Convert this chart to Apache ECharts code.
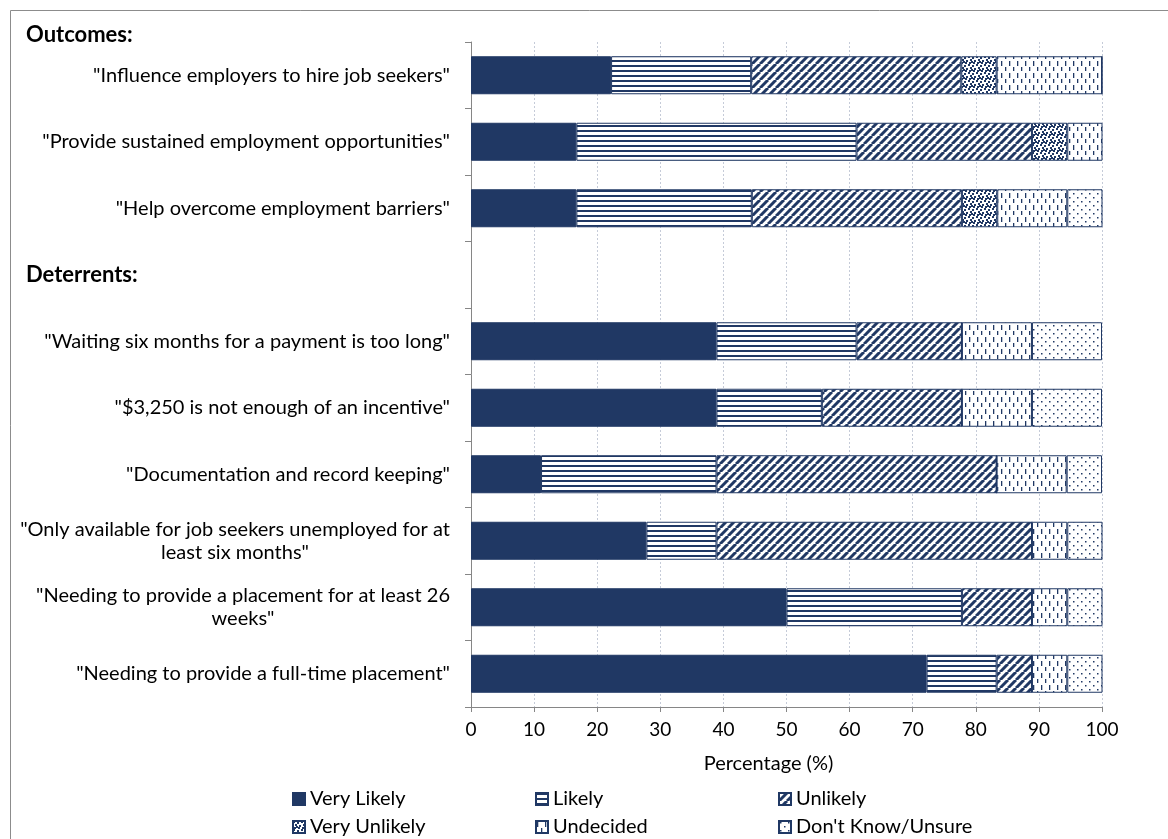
<!DOCTYPE html>
<html><head><meta charset="utf-8">
<script src="https://cdn.jsdelivr.net/npm/echarts@6/dist/echarts.min.js"></script>
<style>html,body{margin:0;padding:0;background:#fff}#c{width:1168px;height:839px}</style>
</head><body><div id="c"></div>
<script>
const categories = [
  '"Influence employers to hire job seekers"',
  '"Provide sustained employment opportunities"',
  '"Help overcome employment barriers"',
  'Deterrents:',
  '"Waiting six months for a payment is too long"',
  '"$3,250 is not enough of an incentive"',
  '"Documentation and record keeping"',
  '"Only available for job seekers unemployed for at\nleast six months"',
  '"Needing to provide a placement for at least 26\nweeks"',
  '"Needing to provide a full-time placement"'
];
const seriesNames = ['Very Likely','Likely','Unlikely','Very Unlikely','Undecided',"Don't Know/Unsure"];
const veryLikely   = [22.2, 16.7, 16.7, null, 38.9, 38.9, 11.1, 27.8, 50.0, 72.2];
const likely       = [22.2, 44.4, 27.8, null, 22.2, 16.7, 27.8, 11.1, 27.8, 11.1];
const unlikely     = [33.3, 27.8, 33.3, null, 16.7, 22.2, 44.4, 50.0, 11.1,  5.6];
const veryUnlikely = [ 5.6,  5.6,  5.6, null,  0,    0,    0,    0,    0,    0  ];
const undecided    = [16.7,  5.6, 11.1, null, 11.1, 11.1, 11.1,  5.6,  5.6,  5.6];
const dontKnow     = [ 0,    0,    5.6, null, 11.1, 11.1,  5.6,  5.6,  5.6,  5.6];
const xTicks = [0,10,20,30,40,50,60,70,80,90,100];

const NAVY = '#203864';
const FONT = 'Lato';
const FS = 20;
function pattern(w, h, draw) {
  const c = document.createElement('canvas');
  c.width = w; c.height = h;
  const g = c.getContext('2d');
  g.fillStyle = '#fff'; g.fillRect(0, 0, w, h);
  g.fillStyle = NAVY; g.strokeStyle = NAVY;
  draw(g);
  return { image: c, repeat: 'repeat' };
}
const fills = [
  NAVY,
  pattern(4, 5, g => { g.fillRect(0, 0, 4, 2); }),
  pattern(8, 8, g => {
    g.lineWidth = 3;
    [-8, 0, 8].forEach(o => { g.beginPath(); g.moveTo(o, 8); g.lineTo(o + 8, 0); g.stroke(); });
  }),
  pattern(8, 8, g => {
    [[0,0],[4,1],[2,3],[6,4],[1,6],[5,6],[3,5]].forEach(p => g.fillRect(p[0], p[1], 2, 2));
  }),
  pattern(8, 12, g => { g.fillRect(1, 1, 1.3, 5); g.fillRect(5, 7, 1.3, 4); }),
  pattern(8, 8, g => { g.fillRect(1, 1, 1.5, 1.5); g.fillRect(5, 5, 1.5, 1.5); })
];
const allData = [veryLikely, likely, unlikely, veryUnlikely, undecided, dontKnow];

const ctx = document.createElement('canvas').getContext('2d');
ctx.font = FS + 'px ' + FONT;
const rich = { h: { fontFamily: FONT, fontSize: 22, fontWeight: 'bold', color: '#000', width: 424, align: 'left' } };
const labelMap = {};
categories.forEach((cat, i) => {
  if (cat.indexOf('\n') >= 0) {
    const lines = cat.split('\n');
    const w = Math.max(...lines.map(l => ctx.measureText(l).width));
    rich['m' + i] = { fontFamily: FONT, fontSize: FS, color: '#000', width: Math.ceil(w), align: 'center', lineHeight: 23 };
    labelMap[cat] = lines.map(l => '{m' + i + '|' + l + '}').join('\n');
  }
});

const chart = echarts.init(document.getElementById('c'), null, { renderer: 'canvas' });
const legendPos = [[287,784],[530,784],[773,784],[287,812],[530,812],[773,812]];
const option = {
  animation: false,
  backgroundColor: '#fff',
  title: { text: 'Outcomes:', left: 21, top: 19, textStyle: { fontFamily: FONT, fontSize: 22, fontWeight: 'bold', color: '#000' } },
  graphic: [{ type: 'rect', shape: { x: 10.5, y: 10.5, width: 1200, height: 900 }, style: { fill: 'none', stroke: '#8c8c8c', lineWidth: 1 }, silent: true }],
  grid: { left: 471, right: 66, top: 42, bottom: 132 },
  legend: seriesNames.map((n, i) => ({
    data: [n], left: legendPos[i][0], top: legendPos[i][1], icon: 'rect', itemWidth: 12, itemHeight: 12,
    textStyle: { fontFamily: FONT, fontSize: FS, color: '#000' }, selectedMode: false
  })),
  xAxis: {
    type: 'value', min: 0, max: 100, interval: 10,
    name: 'Percentage (%)', nameLocation: 'middle', nameGap: 47,
    nameTextStyle: { fontFamily: FONT, fontSize: 20, color: '#000', padding: [0, 36, 0, 0] },
    axisLine: { show: true, lineStyle: { color: '#868686' } },
    axisTick: { show: true, length: 5, lineStyle: { color: '#868686' } },
    axisLabel: { fontFamily: FONT, fontSize: 19, color: '#000', margin: 13, formatter: v => xTicks.indexOf(v) >= 0 ? String(v) : '' },
    splitLine: { show: true, lineStyle: { color: '#c5cbd8', type: [2, 2] } }
  },
  yAxis: {
    type: 'category', inverse: true, data: categories,
    axisLine: { show: true, lineStyle: { color: '#868686' } },
    axisTick: { show: true, length: 6, lineStyle: { color: '#868686' } },
    axisLabel: {
      fontFamily: FONT, fontSize: FS, color: '#000', margin: 21, lineHeight: 23, rich: rich,
      formatter: v => v === 'Deterrents:' ? '{h|Deterrents:}' : (labelMap[v] || v)
    },
    splitLine: { show: false }
  },
  series: seriesNames.map((n, i) => ({
    name: n, type: 'bar', stack: 'total', barWidth: 38,
    data: allData[i],
    itemStyle: { color: fills[i], borderColor: NAVY, borderWidth: 1 }
  }))
};
chart.setOption(option);
</script></body></html>
